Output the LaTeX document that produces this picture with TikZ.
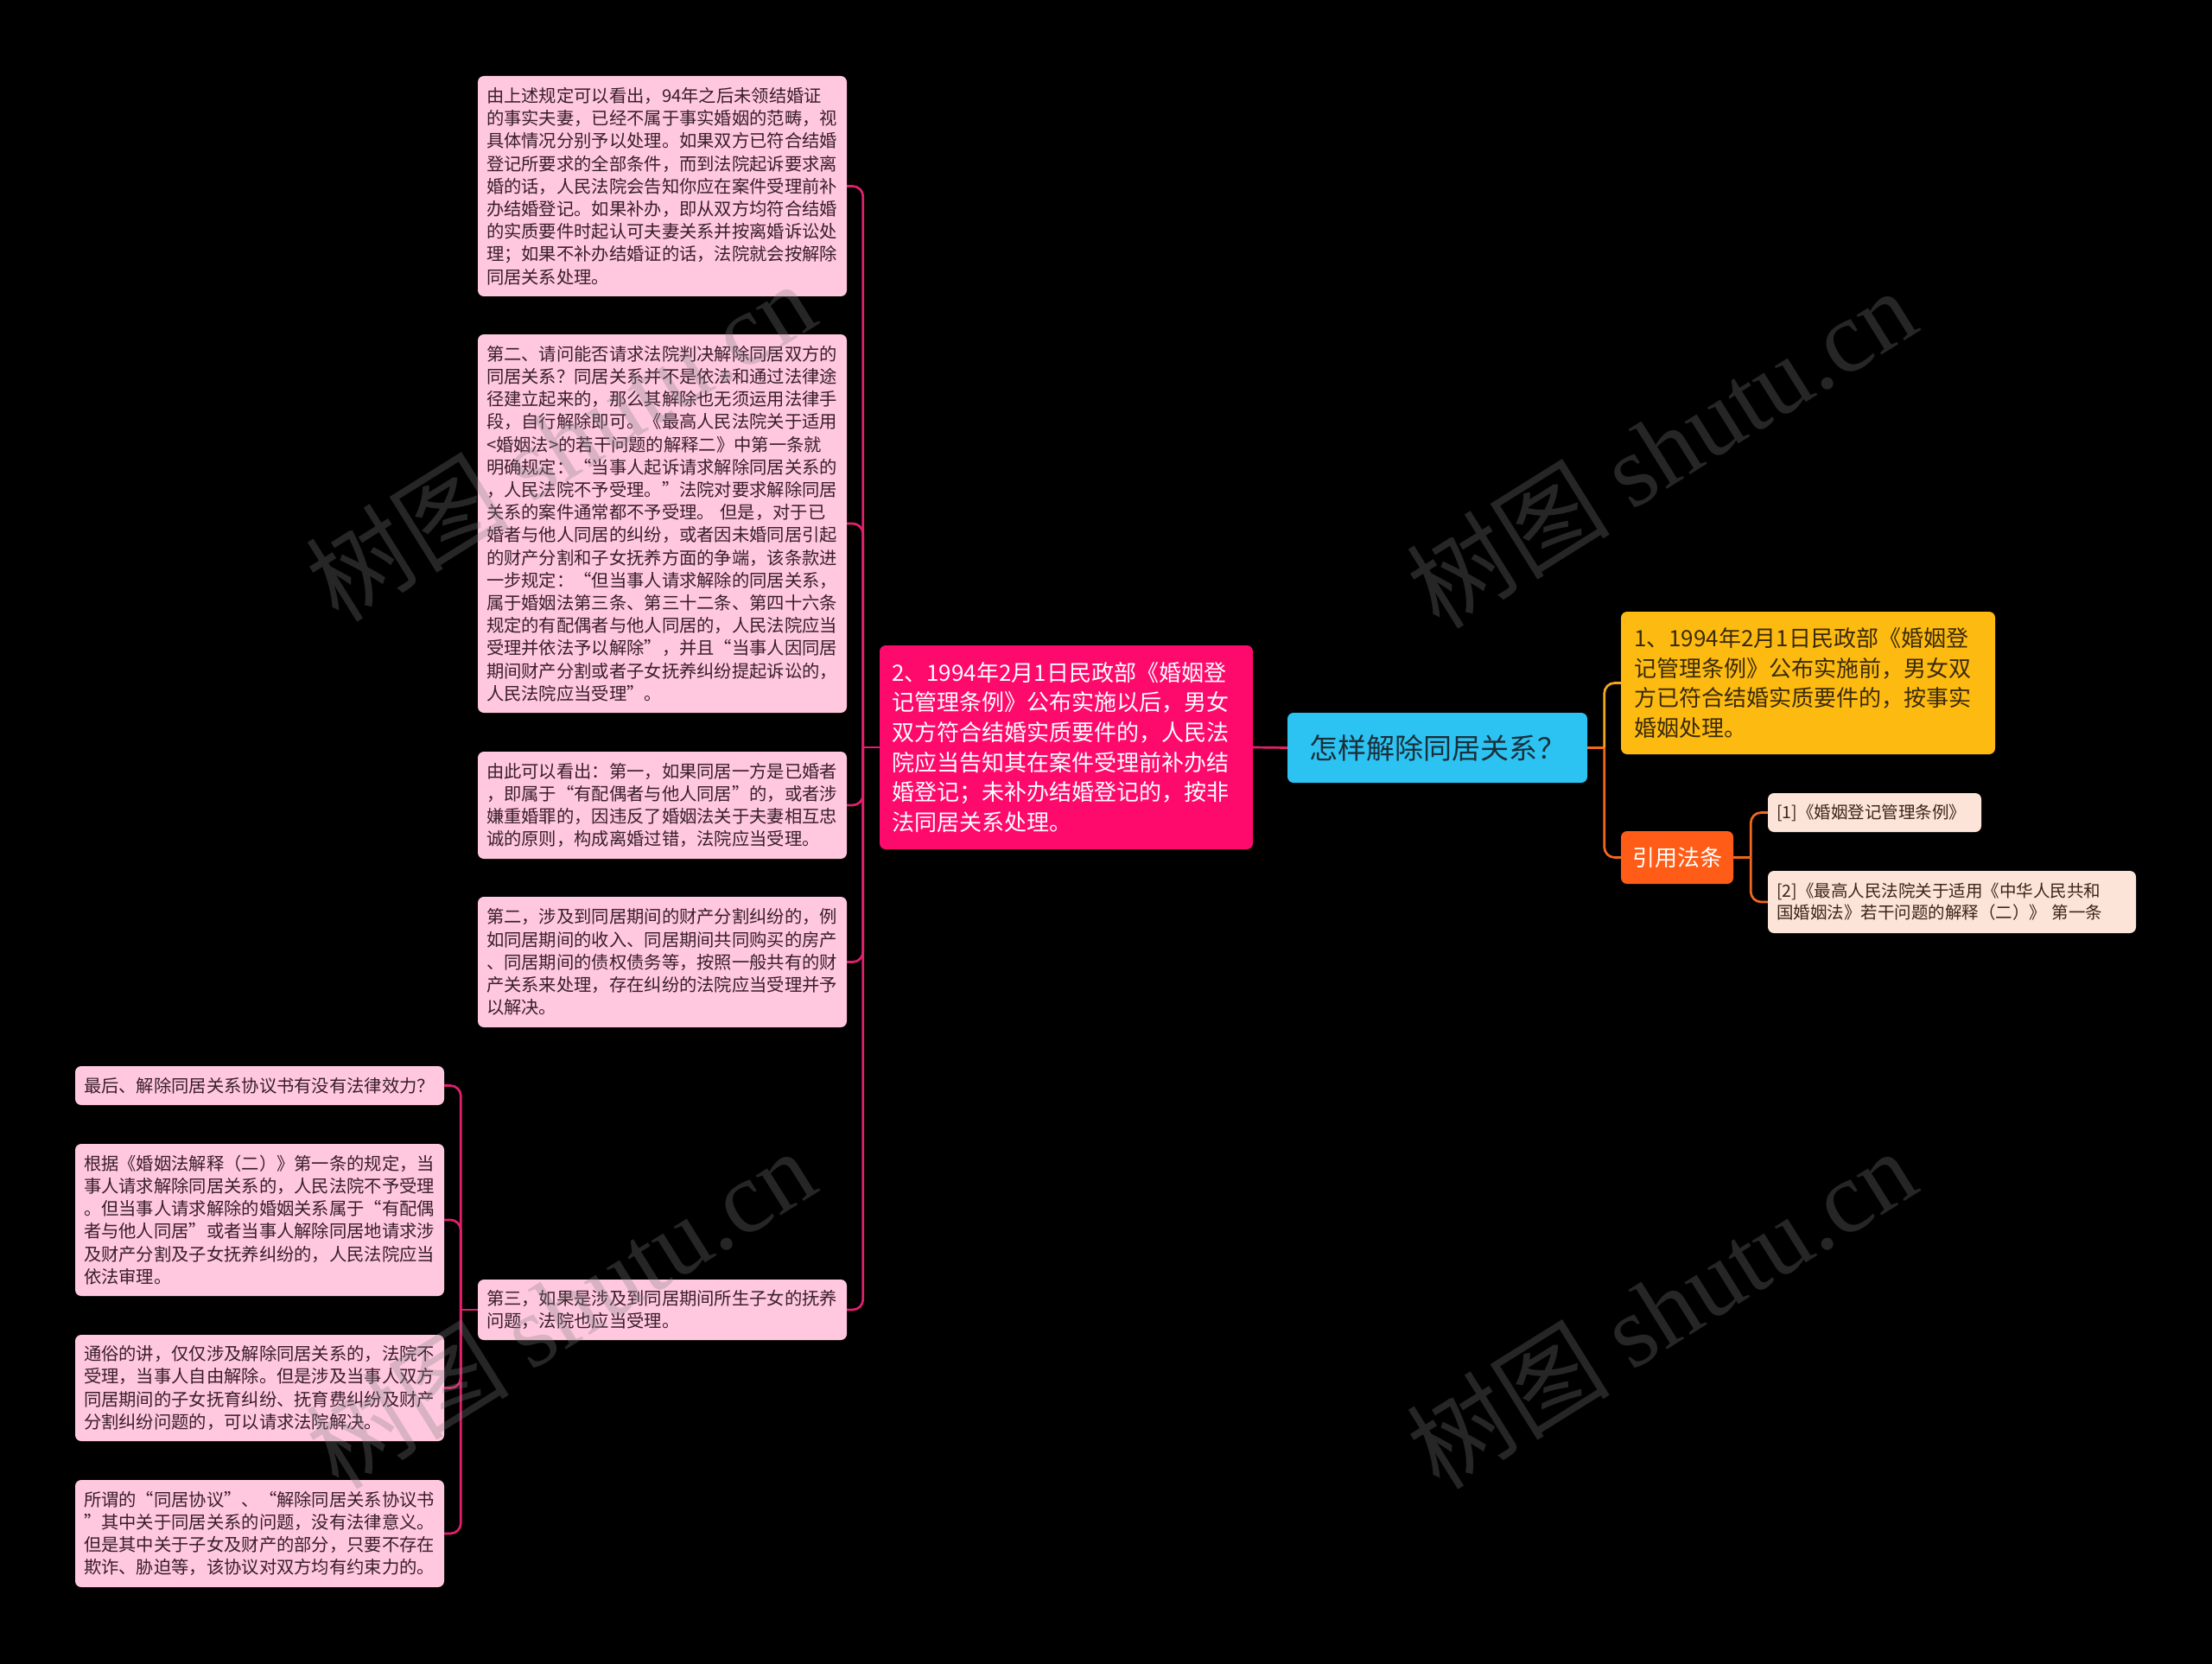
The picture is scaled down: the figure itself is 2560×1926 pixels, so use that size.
\documentclass[tikz,border=0pt]{standalone}
\usepackage{fontspec}
\newfontfamily\cjk{Noto Sans CJK SC}
\newfontfamily\wmlatin{Liberation Serif}
\usetikzlibrary{calc}
\definecolor{rootcyan}{HTML}{2CC3F2}
\definecolor{rootink}{HTML}{1B2F3A}
\definecolor{mainpink}{HTML}{FE0A6C}
\definecolor{leafpink}{HTML}{FFC8DE}
\definecolor{leafink}{HTML}{3A1E2A}
\definecolor{linkpink}{HTML}{E0206C}
\definecolor{factgold}{HTML}{FDBB12}
\definecolor{factink}{HTML}{3A2A08}
\definecolor{citeorange}{HTML}{FF5C17}
\definecolor{refpeach}{HTML}{FDE4D8}
\definecolor{refink}{HTML}{3A2619}
\definecolor{linkgold}{HTML}{F2A81C}
\definecolor{linkorange}{HTML}{F0681F}
\definecolor{wmgray}{HTML}{808080}

\begin{document}
\begin{tikzpicture}[x=1pt,y=-1pt,
 topic/.style={fill=rootcyan,text=rootink,rounded corners=7pt,inner sep=0pt,minimum width=347pt,minimum height=81pt,font=\cjk\fontsize{33}{40}\selectfont},
 branch/.style={fill=mainpink,text=white,rounded corners=7pt,align=left,inner xsep=14pt,inner ysep=0pt,text width=404pt,font=\cjk\fontsize{26}{34.7}\selectfont},
 fact/.style={fill=factgold,text=factink,rounded corners=7pt,align=left,inner xsep=15pt,inner ysep=0pt,text width=403pt,font=\cjk\fontsize{26}{34.7}\selectfont},
 citebox/.style={fill=citeorange,text=white,rounded corners=7pt,inner sep=0pt,minimum width=130pt,minimum height=61pt,font=\cjk\fontsize{26}{32}\selectfont},
 refnote/.style={fill=refpeach,text=refink,rounded corners=7pt,align=left,inner xsep=10pt,inner ysep=0pt,font=\cjk\fontsize{19.5}{25}\selectfont},
 leaf/.style={fill=leafpink,text=leafink,rounded corners=7pt,align=left,inner xsep=10pt,inner ysep=0pt,text width=407pt,font=\cjk\fontsize{20.3}{26.2}\selectfont},
 pinklink/.style={draw=linkpink,line width=2.7pt},
 goldlink/.style={draw=linkgold,line width=2.7pt,rounded corners=12pt},
 orangelink/.style={draw=linkorange,line width=2.7pt,rounded corners=12pt},
 wmtext/.style={text=wmgray,text opacity=0.3,font=\cjk\fontsize{118}{118}\selectfont,inner sep=0pt}]
\useasboundingbox (0,0) rectangle (2560,1926);
\fill[black] (0,0) rectangle (2560,1926);
\node[topic] (topic) at (1663.5,865.5) {怎样解除同居关系？};
\node[branch,minimum height=236pt] (branch) at (1234,865) {2、1994年2月1日民政部《婚姻登\\
记管理条例》公布实施以后，男女\\
双方符合结婚实质要件的，人民法\\
院应当告知其在案件受理前补办结\\
婚登记；未补办结婚登记的，按非\\
法同居关系处理。};
\node[fact,minimum height=165pt] (fact) at (2092.5,790.5) {1、1994年2月1日民政部《婚姻登\\
记管理条例》公布实施前，男女双\\
方已符合结婚实质要件的，按事实\\
婚姻处理。};
\node[citebox] (cite) at (1941,992.5) {引用法条};
\node[refnote,text width=227pt,minimum height=45pt] (ref1) at (2169.5,940.5) {[1]《婚姻登记管理条例》};
\node[refnote,text width=406pt,minimum height=72pt] (ref2) at (2259,1044) {[2]《最高人民法院关于适用《中华人民共和\\
国婚姻法》若干问题的解释（二）》 第一条};
\node[leaf,minimum height=255pt] (rule) at (766.5,215.5) {由上述规定可以看出，94年之后未领结婚证\\
的事实夫妻，已经不属于事实婚姻的范畴，视\\
具体情况分别予以处理。如果双方已符合结婚\\
登记所要求的全部条件，而到法院起诉要求离\\
婚的话，人民法院会告知你应在案件受理前补\\
办结婚登记。如果补办，即从双方均符合结婚\\
的实质要件时起认可夫妻关系并按离婚诉讼处\\
理；如果不补办结婚证的话，法院就会按解除\\
同居关系处理。};
\node[leaf,minimum height=438pt] (askcourt) at (766.5,606) {第二、请问能否请求法院判决解除同居双方的\\
同居关系？同居关系并不是依法和通过法律途\\
径建立起来的，那么其解除也无须运用法律手\\
段，自行解除即可。《最高人民法院关于适用\\
<婚姻法>的若干问题的解释二》中第一条就\\
明确规定：“当事人起诉请求解除同居关系的\\
，人民法院不予受理。”法院对要求解除同居\\
关系的案件通常都不予受理。\ 但是，对于已\\
婚者与他人同居的纠纷，或者因未婚同居引起\\
的财产分割和子女抚养方面的争端，该条款进\\
一步规定：“但当事人请求解除的同居关系，\\
属于婚姻法第三条、第三十二条、第四十六条\\
规定的有配偶者与他人同居的，人民法院应当\\
受理并依法予以解除”，并且“当事人因同居\\
期间财产分割或者子女抚养纠纷提起诉讼的，\\
人民法院应当受理”。};
\node[leaf,minimum height=124pt] (married) at (766.5,932) {由此可以看出：第一，如果同居一方是已婚者\\
，即属于“有配偶者与他人同居”的，或者涉\\
嫌重婚罪的，因违反了婚姻法关于夫妻相互忠\\
诚的原则，构成离婚过错，法院应当受理。};
\node[leaf,minimum height=151pt] (property) at (766.5,1113.5) {第二，涉及到同居期间的财产分割纠纷的，例\\
如同居期间的收入、同居期间共同购买的房产\\
、同居期间的债权债务等，按照一般共有的财\\
产关系来处理，存在纠纷的法院应当受理并予\\
以解决。};
\node[leaf,minimum height=70pt] (children) at (766.5,1516) {第三，如果是涉及到同居期间所生子女的抚养\\
问题，法院也应当受理。};
\node[leaf,minimum height=45pt] (agreement) at (300.5,1256.5) {最后、解除同居关系协议书有没有法律效力？};
\node[leaf,minimum height=176pt] (basis) at (300.5,1412) {根据《婚姻法解释（二）》第一条的规定，当\\
事人请求解除同居关系的，人民法院不予受理\\
。但当事人请求解除的婚姻关系属于“有配偶\\
者与他人同居”或者当事人解除同居地请求涉\\
及财产分割及子女抚养纠纷的，人民法院应当\\
依法审理。};
\node[leaf,minimum height=123pt] (plainly) at (300.5,1606.5) {通俗的讲，仅仅涉及解除同居关系的，法院不\\
受理，当事人自由解除。但是涉及当事人双方\\
同居期间的子女抚育纠纷、抚育费纠纷及财产\\
分割纠纷问题的，可以请求法院解决。};
\node[leaf,minimum height=124pt] (sotermed) at (300.5,1775) {所谓的“同居协议”、“解除同居关系协议书\\
”其中关于同居关系的问题，没有法律意义。\\
但是其中关于子女及财产的部分，只要不存在\\
欺诈、胁迫等，该协议对双方均有约束力的。};
\coordinate (mainfork) at ($(branch.west)+(-19,0)$);
\coordinate (rightfork) at ($(topic.east)+(19.5,0)$);
\coordinate (citefork) at ($(cite.east)+(20,0)$);
\coordinate (childfork) at ($(children.west)+(-19.5,0)$);
\draw[pinklink] (topic.west)--(branch.east);
\draw[pinklink] (branch.west)--(mainfork);
\draw[pinklink,rounded corners=12pt] (mainfork)|-(rule.east);
\draw[pinklink,rounded corners=12pt] (mainfork)|-(askcourt.east);
\draw[pinklink,rounded corners=12pt] (mainfork)|-(married.east);
\draw[pinklink,rounded corners=12pt] (mainfork)|-(property.east);
\draw[pinklink,rounded corners=12pt] (mainfork)|-(children.east);
\draw[pinklink] (children.west)--(childfork);
\draw[pinklink,rounded corners=12pt] (childfork)|-(agreement.east);
\draw[pinklink,rounded corners=12pt] (childfork)|-(basis.east);
\draw[pinklink,rounded corners=12pt] (childfork)|-(plainly.east);
\draw[pinklink,rounded corners=12pt] (childfork)|-(sotermed.east);
\draw[orangelink] (topic.east)--(rightfork);
\draw[goldlink] (rightfork)|-(fact.west);
\draw[orangelink] (rightfork)|-(cite.west);
\draw[orangelink] (cite.east)--(citefork);
\draw[orangelink] (citefork)|-(ref1.west);
\draw[orangelink] (citefork)|-(ref2.west);
\node[wmtext,rotate=32] (wm1) at (648,510) {树图 {\wmlatin shutu.cn}};
\node[wmtext,rotate=32] (wm2) at (1922,518) {树图 {\wmlatin shutu.cn}};
\node[wmtext,rotate=32] (wm3) at (648,1514) {树图 {\wmlatin shutu.cn}};
\node[wmtext,rotate=32] (wm4) at (1922,1514) {树图 {\wmlatin shutu.cn}};
\end{tikzpicture}
\end{document}
